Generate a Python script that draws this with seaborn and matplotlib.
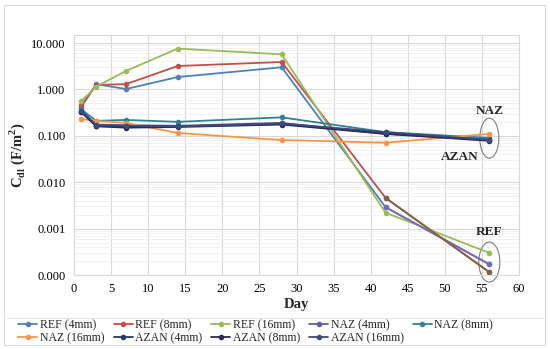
import numpy as np
import pandas as pd
import seaborn as sns
import matplotlib.pyplot as plt
from matplotlib.patches import Ellipse, Rectangle
from matplotlib.ticker import FixedLocator, LogLocator, FuncFormatter, MultipleLocator

# --- Datos ---
days = [1, 3, 7, 14, 28, 42, 56]
series_names = ['REF (4mm)', 'REF (8mm)', 'REF (16mm)',
                'NAZ (4mm)', 'NAZ (8mm)', 'NAZ (16mm)',
                'AZAN (4mm)', 'AZAN (8mm)', 'AZAN (16mm)']

ref_4 = [0.42, 1.30, 1.02, 1.85, 3.00, 0.0029, 0.00017]
ref_8 = [0.46, 1.25, 1.30, 3.20, 3.90, 0.0046, 0.000115]
ref_16 = [0.56, 1.15, 2.50, 7.60, 5.70, 0.0022, 0.00030]
naz_4 = [0.34, 0.175, 0.17, 0.165, 0.19, 0.110, 0.085]
naz_8 = [0.37, 0.210, 0.22, 0.200, 0.25, 0.120, 0.090]
naz_16 = [0.23, 0.210, 0.19, 0.115, 0.081, 0.071, 0.110]
azan_4 = [0.33, 0.165, 0.16, 0.160, 0.180, 0.115, 0.080]
azan_8 = [0.32, 0.160, 0.15, 0.155, 0.175, 0.110, 0.078]
azan_16 = [0.35, 0.170, 0.165, 0.160, 0.185, 0.120, 0.082]

colors = ['#4F81BD', '#C0504D', '#9BBB59',
          '#6A5A9C', '#2F8396', '#F79646',
          '#1F3B6E', '#2D2A55', '#3D4A7A']
# colores del último tramo (días 42-56) en REF 4mm y 8mm
late_colors = {'REF (4mm)': '#7B68B8', 'REF (8mm)': '#7F6447'}

y_ticks = [0.0001, 0.001, 0.01, 0.1, 1, 10]

all_vals = [ref_4, ref_8, ref_16, naz_4, naz_8, naz_16, azan_4, azan_8, azan_16]
df = pd.DataFrame({
    'Day': days * len(series_names),
    'Cdl': np.concatenate(all_vals),
    'Serie': np.repeat(series_names, len(days)),
})

# --- Estilo ---
sns.set_style('white')
plt.rcParams['font.family'] = ['Liberation Serif', 'DejaVu Serif']
plt.rcParams['mathtext.fontset'] = 'custom'
plt.rcParams['mathtext.rm'] = 'Liberation Serif'
plt.rcParams['mathtext.bf'] = 'Liberation Serif:bold'

fig = plt.figure(figsize=(5.5, 3.49), dpi=100)
ax = fig.add_axes([74 / 550, 1 - 275 / 349, 445 / 550, 240 / 349])

sns.lineplot(data=df, x='Day', y='Cdl', hue='Serie', hue_order=series_names,
             palette=colors, marker='o', markersize=4, markeredgewidth=0,
             linewidth=1.3, ax=ax, legend=True)

# tramo final con otro color
late = df[(df['Serie'].isin(late_colors.keys())) & (df['Day'] >= 42)]
for name, c in late_colors.items():
    sns.lineplot(data=late[late['Serie'] == name], x='Day', y='Cdl', color=c,
                 marker='o', markersize=4, markeredgewidth=0, linewidth=1.3,
                 ax=ax, legend=False)

ax.set_yscale('log')
ax.set_ylim(0.0001, 14.9)
ax.set_xlim(0, 60)
ax.yaxis.set_major_locator(FixedLocator(y_ticks))
ax.yaxis.set_minor_locator(LogLocator(base=10, subs=np.arange(2, 10)))
ax.yaxis.set_major_formatter(FuncFormatter(lambda v, p: f'{v:.3f}'))
ax.yaxis.set_minor_formatter(FuncFormatter(lambda v, p: ''))
ax.xaxis.set_major_locator(MultipleLocator(5))
ax.xaxis.set_minor_locator(MultipleLocator(1))

ax.grid(which='major', color='#d9d9d9', linewidth=0.8)
ax.grid(which='minor', axis='y', color='#f0f0f0', linewidth=0.6)
ax.set_axisbelow(True)
for s in ax.spines.values():
    s.set_color('#d9d9d9')
    s.set_linewidth(0.8)
ax.tick_params(axis='both', which='major', labelsize=9, colors='#404040',
               length=0, pad=6)
ax.tick_params(axis='x', which='minor', length=3, color='#bfbfbf', direction='in')
ax.tick_params(axis='y', which='minor', length=0)
for lbl in ax.get_xticklabels() + ax.get_yticklabels():
    lbl.set_color('black')

ax.set_xlabel('Day', fontsize=10.5, fontweight='bold', labelpad=2)
ax.set_ylabel(r'C$_{\mathbf{dl}}$ (F/m$^{\mathbf{2}}$)', fontsize=10.5,
              fontweight='bold', labelpad=3)

# --- Elipses y etiquetas ---
def ellipse_at(x, y, w_px, h_px):
    cx, cy = ax.transAxes.inverted().transform(ax.transData.transform((x, y)))
    e = Ellipse((cx, cy), w_px / 445, h_px / 240, transform=ax.transAxes,
                fill=False, edgecolor='#7f7f7f', linewidth=0.8, clip_on=False)
    ax.add_patch(e)

ellipse_at(56, 0.089, 19, 40)
ellipse_at(56, 0.00019, 21, 40)
ax.text(56, 0.34, 'NAZ', fontsize=9.5, fontweight='bold', ha='center', va='center')
ax.text(52, 0.035, 'AZAN', fontsize=9.5, fontweight='bold', ha='center', va='center')
ax.text(56, 0.00085, 'REF', fontsize=9.5, fontweight='bold', ha='center', va='center')

# --- Leyenda (orden por filas como en Excel) ---
handles, labels = ax.get_legend_handles_labels()
ax.get_legend().remove()
order = [0, 5, 1, 6, 2, 7, 3, 8, 4]
fig.legend([handles[i] for i in order], [labels[i] for i in order],
           loc='lower left', ncol=5, mode='expand',
           bbox_to_anchor=(0.025, 0.0, 0.88, 0.082), frameon=False,
           fontsize=8.5, handlelength=1.6, handletextpad=0.2,
           borderaxespad=0, labelspacing=0.1)
fig.add_artist(plt.Line2D([0.012, 0.988], [0.09, 0.09], transform=fig.transFigure,
                          color='#e6e6e6', linewidth=0.8))

# borde del gráfico
fig.patches.append(Rectangle((4 / 550, 1 - 345 / 349), 541 / 550, 340 / 349,
                             transform=fig.transFigure, fill=False,
                             edgecolor='#d9d9d9', linewidth=0.8))

fig.savefig('out.png', dpi=100)
